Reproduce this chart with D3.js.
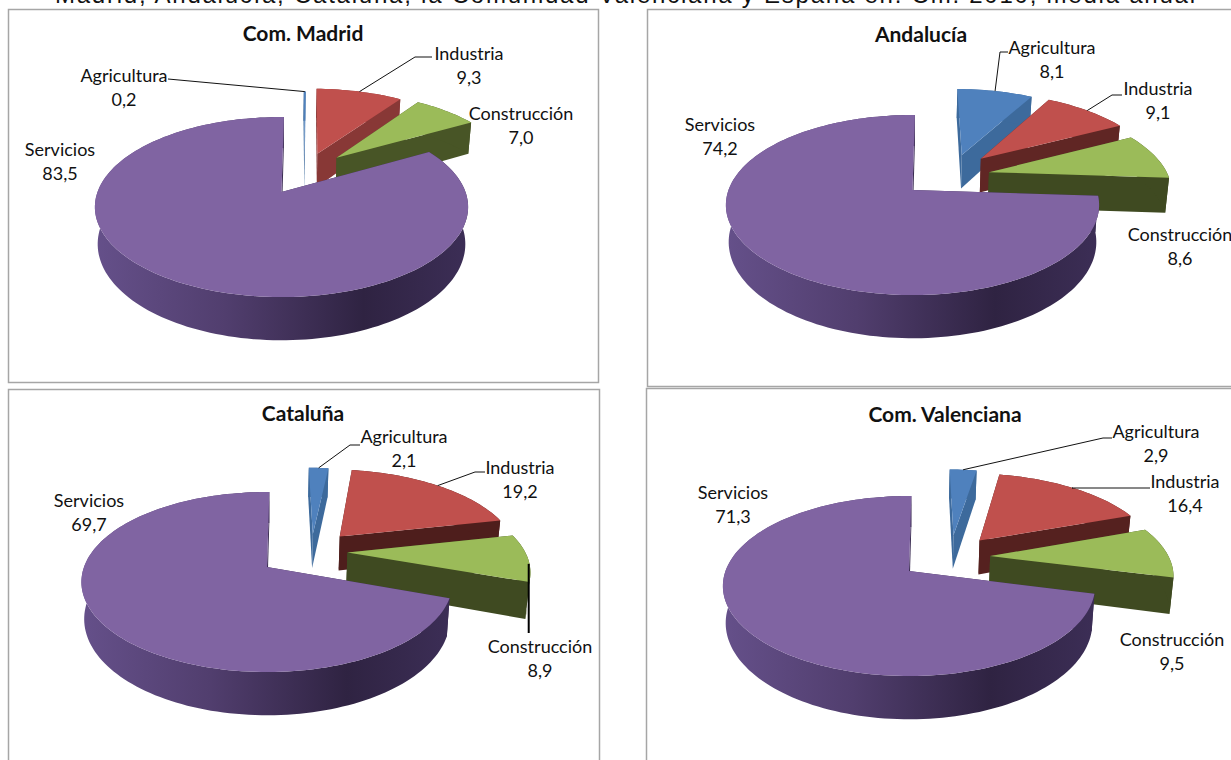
<!DOCTYPE html>
<html>
<head>
<meta charset="utf-8">
<script src="https://cdn.jsdelivr.net/npm/d3@7"></script>
<style>
  html, body { margin: 0; padding: 0; background: #fff; overflow: hidden; }
  text { font-family: Lato, "Noto Sans", sans-serif; fill: #111; }
</style>
</head>
<body>
<script>
// #region DATA
var categories = ["Agricultura", "Industria", "Construcción", "Servicios"];
var madridValues = [0.2, 9.3, 7.0, 83.5];
var andaluciaValues = [8.1, 9.1, 8.6, 74.2];
var cataluniaValues = [2.1, 19.2, 8.9, 69.7];
var valencianaValues = [2.9, 16.4, 9.5, 71.3];
var panelTitles = ["Com. Madrid", "Andalucía", "Cataluña", "Com. Valenciana"];
var pageTitle = "Madrid, Andalucía, Cataluña, la Comunidad Valenciana y España en. Cm. 2010, media anual";
// #endregion

// #region LAYOUT
var topColors = ["#4f81bd", "#c0504d", "#9bbb59", "#8064a2"];
var wallLight = ["#3d6a9c", "#8f3b39", "#5a6b30", "#5a4678"];
var wallDark = ["#345d8a", "#4e1e1c", "#3f4a21", "#3a2c52"];

// box: chart frame, cx/cy: pie centre, explode: [u, v] shift of each slice on the disc,
// labels: [x, y] of the name line, leaders: [label end, elbow] or null
var panels = [
    {
        values: madridValues, box: [8.5, 9.5, 590, 373], titleX: 303, titleY: 41,
        cx: 281.5, cy: 192, rx: 184,
        explode: [[0.135, -0.42], [0.21, -0.47], [0.32, -0.42], [0, 0]],
        labels: [[124, 82], [469, 60], [521, 120], [60, 156]],
        leaders: [[[168, 79]], [[432, 57], [415, 57]], null, null]
    },
    {
        values: andaluciaValues, box: [647.5, 9.5, 600, 377], titleX: 921, titleY: 42,
        cx: 912.5, cy: 190, rx: 184,
        explode: [[0.287, -0.43], [0.395, -0.38], [0.43, -0.21], [0, 0]],
        labels: [[1052, 54], [1158, 95], [1180, 241], [720, 131]],
        leaders: [[[1008, 52], [1000, 52]], [[1122, 95], [1112, 95]], null, null]
    },
    {
        values: cataluniaValues, box: [8.5, 389.5, 591, 400], titleX: 303, titleY: 421,
        cx: 267, cy: 567, rx: 183,
        explode: [[0.267, -0.4], [0.422, -0.37], [0.452, -0.17], [0, 0]],
        labels: [[404, 443], [520, 474], [540, 653], [89, 507]],
        leaders: [[[360, 445], [350, 445]], [[485, 472], [475, 472]], null, null]
    },
    {
        values: valencianaValues, box: [646.5, 388.5, 600, 400], titleX: 945, titleY: 422,
        cx: 909, cy: 571, rx: 183.5,
        explode: [[0.26, -0.44], [0.408, -0.37], [0.455, -0.175], [0, 0]],
        labels: [[1156, 438], [1185, 488], [1172, 646], [733, 499]],
        leaders: [[[1112, 438], [1103, 438]], [[1150, 488], [1072, 488]], null, null]
    }
];

var ry = 87.5;      // vertical radius of the disc
var persp = 0.167;  // front of the disc looks bigger than the back
var depth = 36;     // thickness of the disc
var startRot = 0.015;  // the pie does not start quite at 12 o'clock
// #endregion

var svg = d3.select("body")
    .append("svg")
    .attr("width", 1231)
    .attr("height", 760);

svg.append("text")
    .text(pageTitle)
    .attr("x", 625)
    .attr("y", 3)
    .attr("text-anchor", "middle")
    .style("font-family", "'Liberation Sans', sans-serif")
    .style("font-size", "24px")
    .attr("textLength", 1140)
    .attr("lengthAdjust", "spacing");

// gradient of the big slice's outer wall
var grad = svg.append("defs")
    .append("linearGradient")
    .attr("id", "servicios-wall");
grad.append("stop").attr("offset", "0%").attr("stop-color", "#65508a");
grad.append("stop").attr("offset", "35%").attr("stop-color", "#513e6e");
grad.append("stop").attr("offset", "72%").attr("stop-color", "#2f2342");
grad.append("stop").attr("offset", "100%").attr("stop-color", "#3c2e56");

var pie = d3.pie()
    .sort(null)
    .value(d => d)
    .startAngle(startRot)
    .endAngle(2 * Math.PI + startRot);
var line = d3.line();

// point on the disc seen from above; z = 1 is the underside
function project(p, off, a, r, z) {
    var u = off[0] + r * Math.sin(a);
    var v = off[1] - r * Math.cos(a);
    var s = 1 / (1 - persp * v);
    return [
        p.cx + p.rx * u * s * (1 - 0.015 * z),
        p.cy + ry * v * s + z * depth * s
    ];
}

function arcAngles(a0, a1) {
    var n = Math.max(2, Math.ceil((a1 - a0) / 0.03));
    return d3.range(n + 1).map(i => a0 + (a1 - a0) * i / n);
}

panels.forEach(function(p, pi) {
    var g = svg.append("g").attr("class", "panel");

    g.append("rect")
        .attr("x", p.box[0])
        .attr("y", p.box[1])
        .attr("width", p.box[2])
        .attr("height", p.box[3])
        .attr("fill", "#fff")
        .attr("stroke", "#a6a6a6")
        .attr("stroke-width", 1.5);

    g.append("text")
        .text(panelTitles[pi])
        .attr("x", p.titleX)
        .attr("y", p.titleY)
        .attr("text-anchor", "middle")
        .style("font-weight", "bold")
        .style("font-size", "21px");

    var slices = pie(p.values);

    slices.forEach(function(d, i) {
        var off = p.explode[i];
        var angles = arcAngles(d.startAngle, d.endAngle);
        var t = Math.min(1, Math.max(0, (d.endAngle * 180 / Math.PI - 30) / 45));
        var wallColor = d3.interpolateRgb(wallLight[i], wallDark[i])(t);

        // radial walls
        [d.startAngle, d.endAngle].forEach(function(a) {
            g.append("path")
                .attr("d", line([
                    project(p, off, a, 0, 0),
                    project(p, off, a, 1, 0),
                    project(p, off, a, 1, 1),
                    project(p, off, a, 0, 1)
                ]) + "Z")
                .attr("fill", wallColor);
        });

        // outer wall
        var outer = angles.map(a => project(p, off, a, 1, 0))
            .concat(angles.slice().reverse().map(a => project(p, off, a, 1, 1)));
        g.append("path")
            .attr("d", line(outer) + "Z")
            .attr("fill", i == 3 ? "url(#servicios-wall)" : wallColor);

        // top surface
        var top = [project(p, off, 0, 0, 0)]
            .concat(angles.map(a => project(p, off, a, 1, 0)));
        g.append("path")
            .attr("d", line(top) + "Z")
            .attr("fill", topColors[i]);
    });

    // leader lines end on the middle of the slice's rim
    slices.forEach(function(d, i) {
        if (!p.leaders[i]) return;
        var mid = (d.startAngle + d.endAngle) / 2;
        g.append("path")
            .attr("d", line(p.leaders[i].concat([project(p, p.explode[i], mid, 1, 0)])))
            .attr("fill", "none")
            .attr("stroke", "#111")
            .attr("stroke-width", 1);
    });

    // data labels
    slices.forEach(function(d, i) {
        var label = g.append("text")
            .attr("text-anchor", "middle")
            .style("font-size", "18px");
        label.append("tspan")
            .text(categories[i])
            .attr("x", p.labels[i][0])
            .attr("y", p.labels[i][1]);
        label.append("tspan")
            .text(d3.format(".1f")(d.value).replace(".", ","))
            .attr("x", p.labels[i][0])
            .attr("y", p.labels[i][1] + 24);
    });
});

// Cataluña's Construcción leader is drawn heavier in the original
var cat = panels[2];
var catCons = pie(cat.values)[2];
var catMid = (catCons.startAngle + catCons.endAngle) / 2;
var catRim = project(cat, cat.explode[2], catMid, 1, 0);
svg.append("line")
    .attr("x1", catRim[0] + 1)
    .attr("x2", catRim[0] + 1)
    .attr("y1", catRim[1] + 6)
    .attr("y2", cat.labels[2][1] - 20)
    .attr("stroke", "#000")
    .attr("stroke-width", 2);
</script>
</body>
</html>
